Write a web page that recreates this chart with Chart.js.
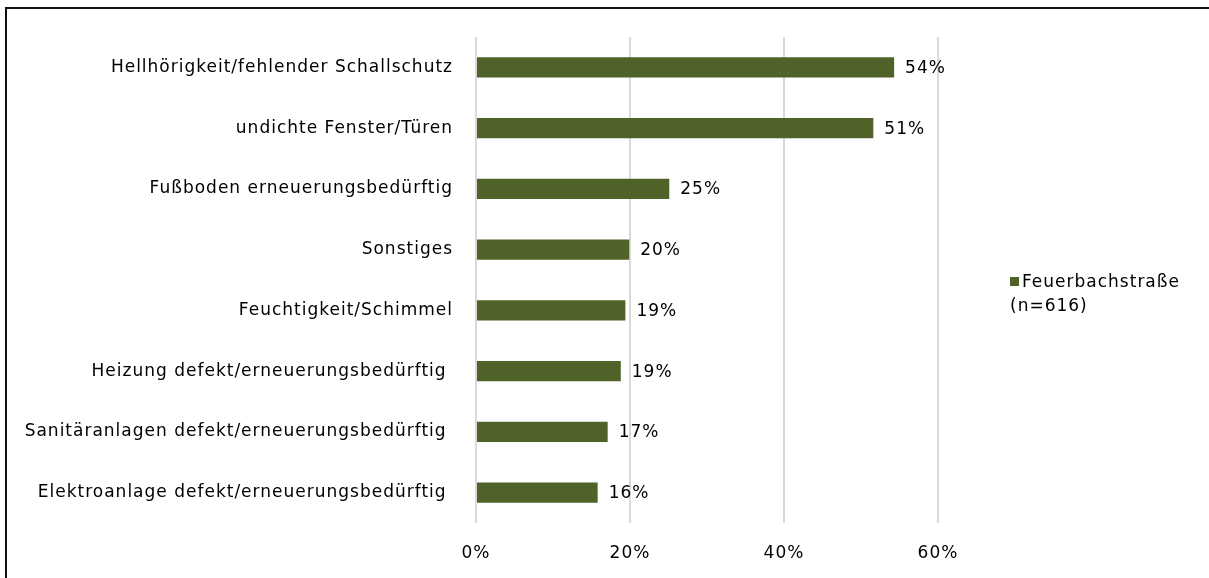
<!DOCTYPE html>
<html>
<head>
<meta charset="utf-8">
<script src="https://cdn.jsdelivr.net/npm/chart.js@4"></script>
<style>
  html, body { margin: 0; padding: 0; background: #fff; overflow: hidden; }
  #frame { position: absolute; left: 5px; top: 7px; width: 1300px; height: 700px; border: 2px solid #111; }
  #chartContainer { position: absolute; left: 0; top: 0; width: 1209px; height: 578px; }
</style>
</head>
<body>
<div id="frame"></div>
<div id="chartContainer"><canvas id="damageChart" width="1209" height="578"></canvas></div>
<script>
// categories (top to bottom) and shares
const categories = [
    'Hellhörigkeit/fehlender Schallschutz',
    'undichte Fenster/Türen',
    'Fußboden erneuerungsbedürftig',
    'Sonstiges',
    'Feuchtigkeit/Schimmel',
    'Heizung defekt/erneuerungsbedürftig ',
    'Sanitäranlagen defekt/erneuerungsbedürftig ',
    'Elektroanlage defekt/erneuerungsbedürftig '
];
const shares = [0.543, 0.516, 0.251, 0.199, 0.194, 0.188, 0.171, 0.158];
const shareLabels = ['54%', '51%', '25%', '20%', '19%', '19%', '17%', '16%'];
const seriesLabel = ['Feuerbachstraße', '(n=616)'];
const xTicks = [0, 0.2, 0.4, 0.6];

const FONT = '"DejaVu Sans", sans-serif';
const SPACING = '1px';

// wider letter spacing, closer to the original typeface
const spacing = {
    id: 'spacing',
    beforeUpdate(chart) { chart.ctx.letterSpacing = SPACING; },
    beforeDraw(chart) { chart.ctx.letterSpacing = SPACING; }
};

// value labels next to the bar ends
const barLabels = {
    id: 'barLabels',
    afterDatasetsDraw(chart) {
        const ctx = chart.ctx;
        const meta = chart.getDatasetMeta(0);
        ctx.save();
        ctx.font = '17px ' + FONT;
        ctx.fillStyle = '#000';
        ctx.textBaseline = 'middle';
        meta.data.forEach((bar, i) => {
            ctx.fillText(shareLabels[i], bar.x + 11, bar.y + 1);
        });
        ctx.restore();
    }
};

// two-line legend on the right
const sideLegend = {
    id: 'sideLegend',
    afterDraw(chart) {
        const ctx = chart.ctx;
        ctx.save();
        ctx.fillStyle = '#4f6228';
        ctx.fillRect(1010, 277, 9, 9);
        ctx.font = '17px ' + FONT;
        ctx.fillStyle = '#000';
        ctx.textBaseline = 'middle';
        ctx.fillText(seriesLabel[0], 1022, 283);
        ctx.fillText(seriesLabel[1], 1010, 307);
        ctx.restore();
    }
};

function createDamageChart() {
    const ctx = document.getElementById('damageChart').getContext('2d');
    new Chart(ctx, {
        type: 'bar',
        data: {
            labels: categories,
            datasets: [{
                label: seriesLabel.join(' '),
                data: shares,
                backgroundColor: '#4f6228',
                borderColor: '#4f6228',
                borderWidth: 0,
                categoryPercentage: 0.33,
                barPercentage: 1.0
            }]
        },
        options: {
            indexAxis: 'y',
            responsive: false,
            animation: false,
            layout: { padding: { top: 37, right: 271, bottom: 0, left: 0 } },
            scales: {
                x: {
                    min: 0,
                    max: 0.6,
                    afterBuildTicks: axis => { axis.ticks = xTicks.map(v => ({ value: v })); },
                    afterFit: axis => { axis.height = 55; },
                    grid: { color: '#d9d9d9', lineWidth: 2, drawTicks: false },
                    border: { display: false },
                    ticks: {
                        padding: 20,
                        color: '#000',
                        font: { family: FONT, size: 17 },
                        callback: v => Math.round(v * 100) + '%'
                    }
                },
                y: {
                    afterFit: axis => { axis.width = 476; },
                    grid: { display: false },
                    border: { display: false },
                    ticks: {
                        padding: 15,
                        color: '#000',
                        font: { family: FONT, size: 17 }
                    }
                }
            },
            plugins: {
                legend: { display: false },
                tooltip: { enabled: false }
            }
        },
        plugins: [spacing, barLabels, sideLegend]
    });
}

document.addEventListener('DOMContentLoaded', function() {
    createDamageChart();
});
</script>
</body>
</html>
